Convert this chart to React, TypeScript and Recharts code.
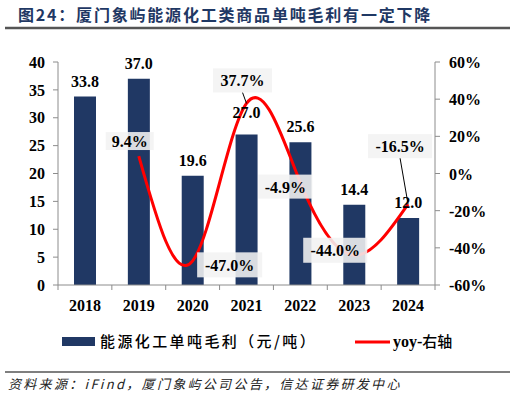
import React from 'react';
import { ComposedChart, Bar, Line, XAxis, YAxis, LabelList } from 'recharts';

const years = ['2018', '2019', '2020', '2021', '2022', '2023', '2024'];
const grossProfit = [33.8, 37.0, 19.6, 27.0, 25.6, 14.4, 12.0];
const yoy: (number | null)[] = [null, 9.4, -47.0, 37.7, -4.9, -44.0, -16.5];
const leftTicks = [0, 5, 10, 15, 20, 25, 30, 35, 40];
const rightTicks = [-60, -40, -20, 0, 20, 40, 60];

const title = '图24：厦门象屿能源化工类商品单吨毛利有一定下降';
const barName = '能源化工单吨毛利（元/吨）';
const lineName = 'yoy-右轴';
const source = '资料来源：iFind，厦门象屿公司公告，信达证券研发中心';

const data = years.map((y, i) => ({ year: y, profit: grossProfit[i], yoy: yoy[i] }));

const W = 516;
const H = 399;
const LEFT_W = 58;
const RIGHT_W = 81;
const PLOT_W = W - LEFT_W - RIGHT_W;
const BAND = PLOT_W / years.length;

const NAVY = '#203864';
const SERIF = "'Times New Roman', 'Liberation Serif', serif";
const CJK = "'Noto Sans CJK SC', sans-serif";
const AXIS = '#8c8c8c';

const XTick = (props: any) => {
  const { x, y, payload, index } = props;
  const isLast = index === years.length - 1;
  return (
    <g>
      <line x1={x - BAND / 2} x2={x - BAND / 2} y1={y} y2={y + 5} stroke={AXIS} strokeWidth={1} />
      {isLast && <line x1={x + BAND / 2} x2={x + BAND / 2} y1={y} y2={y + 5} stroke={AXIS} strokeWidth={1} />}
      <text x={x} y={y + 26} textAnchor="middle" fontFamily={SERIF} fontWeight="bold" fontSize={16} fill="#000">
        {payload.value}
      </text>
    </g>
  );
};

const RightTick = (props: any) => {
  const { x, y, payload } = props;
  return (
    <text x={x} y={y + 6} textAnchor="start" fontFamily={SERIF} fontWeight="bold" fontSize={16} fill="#000">
      {`${payload.value}%`}
    </text>
  );
};

const barLabelLift: Record<number, number> = { 3: 6 };

const BarLabel = (props: any) => {
  const { x, y, width, value, index } = props;
  if (value == null) return null;
  const lift = 10 + (barLabelLift[index] ?? 0);
  return (
    <text x={x + width / 2} y={y - lift} textAnchor="middle" fontFamily={SERIF} fontWeight="bold" fontSize={16} fill="#000">
      {Number(value).toFixed(1)}
    </text>
  );
};

const lineLabelPos: Record<number, { dx: number; dy: number; w: number; h: number; leader?: boolean }> = {
  1: { dx: -9, dy: -15, w: 48, h: 18 },
  2: { dx: 37, dy: 4, w: 65, h: 25 },
  3: { dx: -4, dy: -23, w: 59, h: 24, leader: true },
  4: { dx: -15, dy: 4, w: 54, h: 24 },
  5: { dx: -19, dy: -5, w: 64, h: 25 },
  6: { dx: -8, dy: -58, w: 64, h: 24, leader: true },
};

const LineLabel = (props: any) => {
  const { x, y, value, index } = props;
  if (value == null || x == null || y == null) return null;
  const p = lineLabelPos[index] ?? { dx: 0, dy: -15, w: 60, h: 24 };
  const cx = x + p.dx;
  const cy = y + p.dy;
  return (
    <g>
      {p.leader && <line x1={cx} y1={cy + p.h / 2} x2={x} y2={y} stroke="#000" strokeWidth={1} />}
      <rect x={cx - p.w / 2} y={cy - p.h / 2} width={p.w} height={p.h} fill="#f2f2f2" fillOpacity={0.88} />
      <text x={cx} y={cy + 6} textAnchor="middle" fontFamily={SERIF} fontWeight="bold" fontSize={16} fill="#000">
        {Number(value).toFixed(1)}%
      </text>
    </g>
  );
};

export default function App() {
  return (
    <div style={{ position: 'absolute', left: 0, top: 0, width: W, height: H, background: '#fff' }}>
      <svg width={W} height={H} style={{ position: 'absolute', left: 0, top: 0 }}>
        <text x={18} y={21} fontFamily={CJK} fontWeight="bold" fontSize={16} fill="#1f3864" letterSpacing={1.8}>
          {title}
        </text>
        <line x1={5} x2={510} y1={28} y2={28} stroke="#555" strokeWidth={2.5} />
        <rect x={62} y={337} width={33} height={9} fill={NAVY} />
        <text x={100} y={347} fontFamily={CJK} fontWeight={500} fontSize={15} fill="#000" letterSpacing={2.4}>
          {barName}
        </text>
        <line x1={355} x2={390} y1={342} y2={342} stroke="#ff0000" strokeWidth={3} />
        <text x={393} y={347} fontSize={16} fill="#000">
          <tspan fontFamily={SERIF} fontWeight="bold">yoy-</tspan>
          <tspan fontFamily={CJK} fontWeight={500} fontSize={15}>{lineName.slice(4)}</tspan>
        </text>
        <line x1={5} x2={510} y1={372} y2={372} stroke="#555" strokeWidth={1.5} />
        <text x={8} y={389} fontFamily={CJK} fontStyle="italic" fontSize={13} fill="#222" letterSpacing={2.3}>
          {source}
        </text>
      </svg>
      <div style={{ position: 'absolute', left: 0, top: 0 }}>
        <ComposedChart width={W} height={H} data={data} margin={{ top: 62, right: 0, bottom: 84, left: 0 }}>
          <XAxis
            dataKey="year"
            height={30}
            tick={<XTick />}
            tickLine={false}
            tickSize={0}
            tickMargin={0}
            axisLine={{ stroke: AXIS, strokeWidth: 1 }}
            interval={0}
          />
          <YAxis
            yAxisId="left"
            orientation="left"
            width={LEFT_W}
            domain={[0, 40]}
            ticks={leftTicks}
            interval={0}
            axisLine={{ stroke: AXIS, strokeWidth: 1 }}
            tickLine={{ stroke: AXIS }}
            tickSize={5}
            tickMargin={8}
            tick={{ fontFamily: SERIF, fontWeight: 'bold', fontSize: 16, fill: '#000' }}
          />
          <YAxis
            yAxisId="right"
            orientation="right"
            width={RIGHT_W}
            domain={[-60, 60]}
            ticks={rightTicks}
            interval={0}
            axisLine={{ stroke: AXIS, strokeWidth: 1 }}
            tickLine={{ stroke: AXIS }}
            tickSize={5}
            tickMargin={9}
            tick={<RightTick />}
          />
          <Bar yAxisId="left" dataKey="profit" name={barName} fill={NAVY} barSize={22} isAnimationActive={false}>
            <LabelList dataKey="profit" content={<BarLabel />} />
          </Bar>
          <Line
            yAxisId="right"
            dataKey="yoy"
            name={lineName}
            type="natural"
            stroke="#ff0000"
            strokeWidth={3}
            dot={false}
            activeDot={false}
            isAnimationActive={false}
          >
            <LabelList dataKey="yoy" content={<LineLabel />} />
          </Line>
        </ComposedChart>
      </div>
    </div>
  );
}
